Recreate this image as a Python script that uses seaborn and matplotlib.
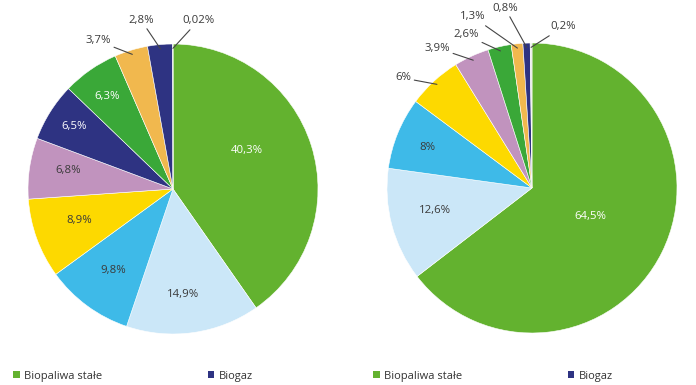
import numpy as np
import matplotlib
matplotlib.use("Agg")
import matplotlib.pyplot as plt
from matplotlib.patches import Patch
import seaborn as sns

# Dane
lewy_wartosci = [40.3, 14.9, 9.8, 8.9, 6.8, 6.5, 6.3, 3.7, 2.8, 0.02]
prawy_wartosci = [64.5, 12.6, 8.0, 6.0, 3.9, 2.6, 1.3, 0.8, 0.2]

legenda_nazwy = ["Biopaliwa stałe", "Biogaz"]

ZIELONY = "#63b22f"
JASNY = "#cbe7f8"
NIEBIESKI = "#3ebae8"
ZOLTY = "#fdd900"
LILA = "#c193be"
GRANAT = "#2e3382"
ZIELONY2 = "#3aa838"
POMARANCZ = "#f1b84e"
SZARY = "#e6e6e6"

lewy_kolory = [ZIELONY, JASNY, NIEBIESKI, ZOLTY, LILA, GRANAT, ZIELONY2, POMARANCZ, GRANAT, SZARY]
prawy_kolory = [ZIELONY, JASNY, NIEBIESKI, ZOLTY, LILA, ZIELONY2, POMARANCZ, GRANAT, SZARY]
legenda_kolory = [ZIELONY, GRANAT]

sns.set_theme(style="white")
plt.rcParams["font.family"] = ["Open Sans", "DejaVu Sans"]

W, H = 696, 385
fig = plt.figure(figsize=(W / 100, H / 100), dpi=100)

# pozycje etykiet w pikselach (x, y od góry)
lewy_etykiety_pos = [(247, 150), (183, 294), (113, 271), (79, 220), (68, 171),
                     (74, 126), (107, 97), (98, 41), (141, 20), (198, 21)]
lewy_zewn = [False] * 7 + [True] * 3
lewy_biale = [True, False, False, False, False, True, True, False, False, False]

prawy_etykiety_pos = [(590, 216), (435, 211), (427, 148), (403, 78), (437, 48),
                      (466, 35), (473, 17), (505, 8), (563, 27)]
prawy_zewn = [False] * 3 + [True] * 6
prawy_biale = [True] + [False] * 8


def etykieta(v):
    return f"{v:g}".replace(".", ",") + "%"


def rysuj(cx, cy, r, wartosci, kolory, pozycje, zewn, biale):
    ax = fig.add_axes([(cx - r) / W, (H - cy - r) / H, 2 * r / W, 2 * r / H])
    wedges, _ = ax.pie(wartosci, colors=kolory, startangle=90, counterclock=False,
                       wedgeprops=dict(edgecolor="white", linewidth=0.4))
    ax.set_xlim(-1, 1)
    ax.set_ylim(-1, 1)
    ax.set_aspect("equal")
    ax.axis("off")
    for w, v, (px, py), out, wh in zip(wedges, wartosci, pozycje, zewn, biale):
        tx, ty = (px - cx) / r, (cy - py) / r
        kolor = "white" if wh else "#3a3a3a"
        if out:
            ang = np.deg2rad((w.theta1 + w.theta2) / 2)
            ax.annotate(etykieta(v), xy=(0.97 * np.cos(ang), 0.97 * np.sin(ang)),
                        xytext=(tx, ty), ha="center", va="center", fontsize=8.2,
                        color=kolor, annotation_clip=False,
                        arrowprops=dict(arrowstyle="-", color="#454545", lw=0.8,
                                        shrinkA=0, shrinkB=0))
        else:
            ax.text(tx, ty, etykieta(v), ha="center", va="center", fontsize=8.2, color=kolor)
    return ax


rysuj(173, 189, 145, lewy_wartosci, lewy_kolory, lewy_etykiety_pos, lewy_zewn, lewy_biale)
rysuj(532, 188, 145, prawy_wartosci, prawy_kolory, prawy_etykiety_pos, prawy_zewn, prawy_biale)

uchwyty = [Patch(facecolor=c, edgecolor="none") for c in legenda_kolory]
for x0 in (13, 373):
    fig.legend(uchwyty, legenda_nazwy, loc="center left", bbox_to_anchor=(x0 / W, 9 / H),
               ncol=2, frameon=False, fontsize=8, handlelength=0.6, handleheight=0.6,
               handletextpad=0.4, columnspacing=9.5, borderpad=0, borderaxespad=0,
               labelcolor="#333333")

fig.savefig("out.png", dpi=100)
